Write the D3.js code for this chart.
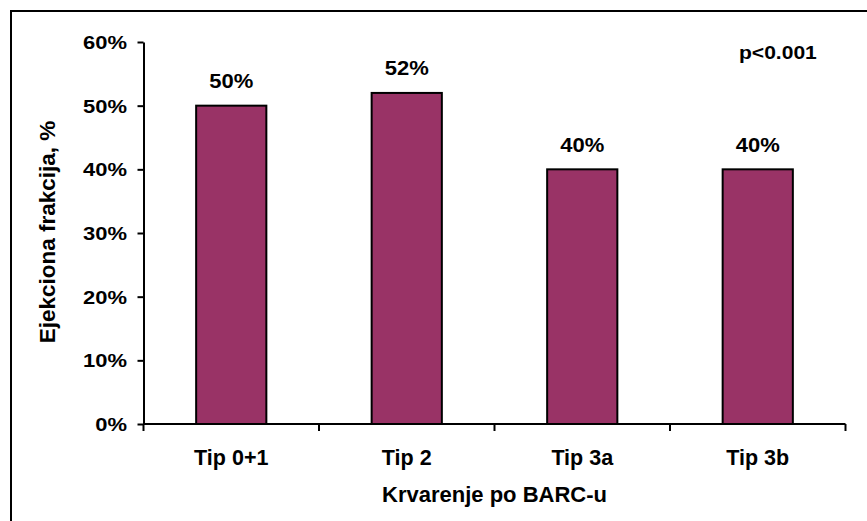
<!DOCTYPE html>
<html>
<head>
<meta charset="utf-8">
<script src="https://cdn.jsdelivr.net/npm/d3@7"></script>
<style>
  body { margin: 0; background: #fff; }
  svg { display: block; font-family: "Liberation Sans", Arial, sans-serif; font-weight: bold; }
</style>
</head>
<body>
<svg id="chart" width="867" height="521"></svg>
<script>
var categories = ["Tip 0+1", "Tip 2", "Tip 3a", "Tip 3b"];
var values = [0.50, 0.52, 0.40, 0.40];
var yTicks = [0, 0.1, 0.2, 0.3, 0.4, 0.5, 0.6];
var yTitle = "Ejekciona frakcija, %";
var xTitle = "Krvarenje po BARC-u";
var note = "p<0.001";

var svg = d3.select("#chart");
// plot area edges (note: "top" is reserved on window, so use other names)
var plotLeft = 143.5, plotRight = 845.5, plotTop = 42, plotBottom = 424;

// outer frame (only top and left edges fall inside the picture)
svg.append("rect")
    .attr("x", 11).attr("y", 11)
    .attr("width", 900).attr("height", 600)
    .attr("fill", "none").attr("stroke", "#000").attr("stroke-width", 2);

var x = d3.scaleBand().domain(categories).range([plotLeft, plotRight]).paddingInner(0.6).paddingOuter(0.3);
var y = d3.scaleLinear().domain([0, 0.6]).range([plotBottom, plotTop]);
var fmt = d3.format(".0%");

// bars
svg.selectAll("rect.bar")
    .data(values)
    .enter().append("rect")
    .attr("class", "bar")
    .attr("x", function(d, i) { return x(categories[i]); })
    .attr("y", function(d) { return y(d); })
    .attr("width", x.bandwidth())
    .attr("height", function(d) { return y(0) - y(d); })
    .attr("fill", "#993366")
    .attr("stroke", "#000")
    .attr("stroke-width", 2);

// value labels
svg.selectAll("text.val")
    .data(values)
    .enter().append("text")
    .attr("class", "val")
    .attr("transform", function(d, i) {
        return "translate(" + (x(categories[i]) + x.bandwidth() / 2) + "," + (y(d) - 17.5) + ") scale(1.1,1)";
    })
    .attr("text-anchor", "middle")
    .attr("font-size", 20)
    .text(function(d) { return fmt(d); });

// y axis
var yAxis = svg.append("g")
    .attr("transform", "translate(" + plotLeft + ",0)")
    .call(d3.axisLeft(y).tickValues(yTicks).tickFormat(fmt).tickSize(6).tickSizeOuter(0));
yAxis.select(".domain").attr("stroke-width", 2);
yAxis.selectAll(".tick line").attr("stroke-width", 2);
yAxis.selectAll(".tick text")
    .attr("font-size", 18)
    .attr("font-family", "Liberation Sans, Arial, sans-serif")
    .attr("font-weight", "bold")
    .attr("fill", "#000")
    .attr("x", -13.6)
    .attr("dy", "0.36em")
    .attr("transform", "scale(1.22,1)");

// x axis: line, boundary ticks, category labels
var xAxis = svg.append("g")
    .attr("transform", "translate(0," + plotBottom + ")")
    .call(d3.axisBottom(x).tickSize(0).tickPadding(0));
xAxis.select(".domain").attr("stroke-width", 2).attr("d", "M" + plotLeft + ",0H" + plotRight);
xAxis.selectAll(".tick text")
    .attr("font-size", 21.5)
    .attr("font-family", "Liberation Sans, Arial, sans-serif")
    .attr("font-weight", "bold")
    .attr("fill", "#000")
    .attr("y", 41)
    .attr("dy", 0);

var bounds = categories.map(function(c) { return x(c) - x.step() * x.paddingInner() / 2; });
bounds.push(plotRight);
bounds[0] = plotLeft;
xAxis.selectAll("line.bound")
    .data(bounds)
    .enter().append("line")
    .attr("class", "bound")
    .attr("x1", function(d) { return d; }).attr("x2", function(d) { return d; })
    .attr("y1", 0).attr("y2", 7)
    .attr("stroke", "#000").attr("stroke-width", 2);

// axis titles
svg.append("text")
    .attr("transform", "translate(55,232) rotate(-90)")
    .attr("text-anchor", "middle")
    .attr("font-size", 22.5)
    .text(yTitle);

svg.append("text")
    .attr("x", (plotLeft + plotRight) / 2)
    .attr("y", 501.5)
    .attr("text-anchor", "middle")
    .attr("font-size", 22)
    .text(xTitle);

// significance note
svg.append("text")
    .attr("transform", "translate(739,58.5) scale(1.17,1)")
    .attr("font-size", 18)
    .text(note);
</script>
</body>
</html>
